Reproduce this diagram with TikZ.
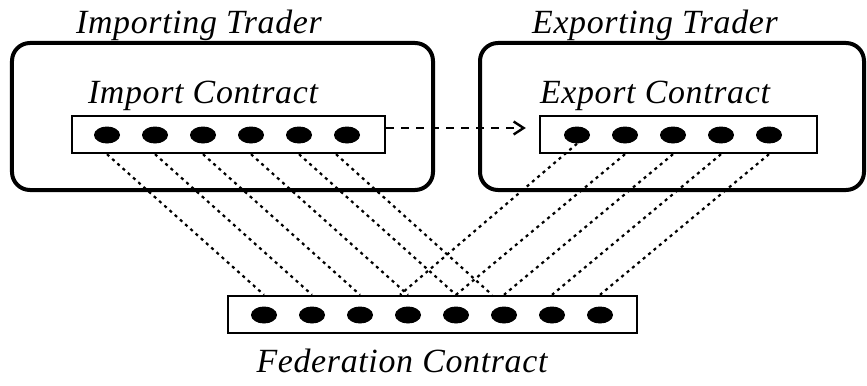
\documentclass[tikz,border=0pt]{standalone}
\usepackage{fontspec}
\setmainfont{Liberation Serif}
\usepackage{tikz}
\usetikzlibrary{arrows.meta,shapes.geometric,calc}
\usetikzlibrary{positioning}

\begin{document}
\begin{tikzpicture}[x=1bp,y=1bp,node distance=48bp]
	\tikzstyle{trader}=[draw, line width=4bp, rounded corners=18bp, inner sep=0pt]
	\tikzstyle{contract}=[draw, line width=2.4bp, minimum height=37bp, inner sep=0pt]
	\tikzstyle{slot}=[ellipse, fill=black, draw=none, minimum width=26bp, minimum height=17bp, inner sep=0pt]
	\tikzstyle{lbl}=[font=\fontsize{34}{40}\selectfont\itshape\addfontfeature{LetterSpace=2}, anchor=base, inner sep=0pt]
	\tikzstyle{link}=[line width=2.2bp, dash pattern=on 3bp off 4bp]
	\tikzstyle{pass}=[line width=2.4bp, dash pattern=on 8bp off 7bp, -{Straight Barb[length=10bp,width=13bp]}]

	\useasboundingbox (0,0) rectangle (867,385);

	% traders
	\node[trader, minimum width=421bp, minimum height=147bp] (imptr) at (222.5,268.5) {};
	\node[trader, minimum width=384bp, minimum height=147bp] (exptr) at (672,268.5) {};
	\node[lbl] (imptrlbl) at (199,352) {Importing Trader};
	\node[lbl] (exptrlbl) at (655,352) {Exporting Trader};

	% contracts
	\node[contract, minimum width=313bp] (impc) at (228.5,250.5) {};
	\node[contract, minimum width=277bp] (expc) at (678.5,250.5) {};
	\node[contract, minimum width=409bp] (fedc) at (432.5,70.5) {};
	\node[lbl] (impclbl) at (203,282) {Import Contract};
	\node[lbl] (expclbl) at (655,282) {Export Contract};
	\node[lbl] (fedclbl) at (402,13) {Federation Contract};

	% import slots
	\node[slot] (i1) at (107,250) {};
	\node[slot] (i2) [right of=i1] {};
	\node[slot] (i3) [right of=i2] {};
	\node[slot] (i4) [right of=i3] {};
	\node[slot] (i5) [right of=i4] {};
	\node[slot] (i6) [right of=i5] {};

	% export slots
	\node[slot] (e1) at (577,250) {};
	\node[slot] (e2) [right of=e1] {};
	\node[slot] (e3) [right of=e2] {};
	\node[slot] (e4) [right of=e3] {};
	\node[slot] (e5) [right of=e4] {};

	% federation slots
	\node[slot] (f1) at (264,70) {};
	\node[slot] (f2) [right of=f1] {};
	\node[slot] (f3) [right of=f2] {};
	\node[slot] (f4) [right of=f3] {};
	\node[slot] (f5) [right of=f4] {};
	\node[slot] (f6) [right of=f5] {};
	\node[slot] (f7) [right of=f6] {};
	\node[slot] (f8) [right of=f7] {};

	% import -> export
	\draw[pass, shorten >=13bp] ([yshift=6.5bp]impc.east) -- ([yshift=6.5bp]expc.west);

	% import slots into the federation
	\draw[link] (i1 |- impc.south) -- (f1 |- fedc.north);
	\draw[link] (i2 |- impc.south) -- (f2 |- fedc.north);
	\draw[link] (i3 |- impc.south) -- (f3 |- fedc.north);
	\draw[link] (i4 |- impc.south) -- (f4 |- fedc.north);
	\draw[link] (i5 |- impc.south) -- (f5 |- fedc.north);
	\draw[link] ($(i6 |- impc.south)+(-11,0)$) -- ($(f6 |- fedc.north)+(-12,0)$);

	% export slots into the federation
	\draw[link] (e1.south) -- ($(f4 |- fedc.north)+(-8,0)$);
	\draw[link] (e2 |- expc.south) -- (f5 |- fedc.north);
	\draw[link] (e3 |- expc.south) -- (f6 |- fedc.north);
	\draw[link] (e4 |- expc.south) -- (f7 |- fedc.north);
	\draw[link] (e5 |- expc.south) -- (f8 |- fedc.north);
\end{tikzpicture}
\end{document}
